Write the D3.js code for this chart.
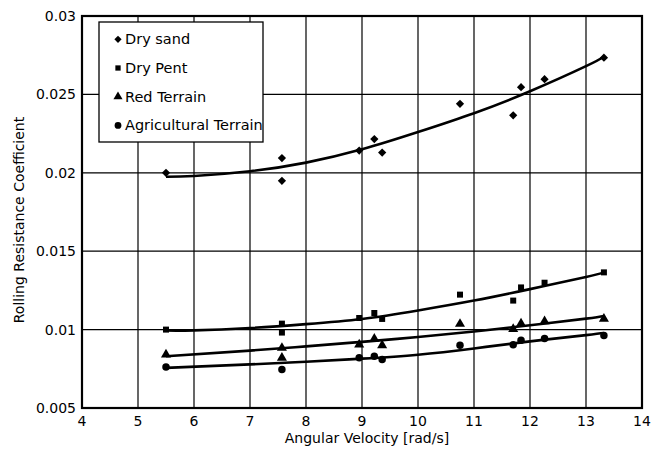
<!DOCTYPE html>
<html>
<head>
<meta charset="utf-8">
<script src="https://cdn.jsdelivr.net/npm/d3@7"></script>
<style>
  body { margin: 0; background: #fff; }
  svg text { font-family: "DejaVu Sans", sans-serif; fill: #000; }
</style>
</head>
<body>
<div id="chart"></div>
<script>
// measured points
var drySand = [[5.5,0.0200],[7.57,0.02094],[7.57,0.01949],[8.95,0.02142],[9.22,0.02215],[9.36,0.02129],
  [10.75,0.0244],[11.7,0.02367],[11.84,0.02546],[12.26,0.02597],[13.32,0.02734]];
var dryPent = [[5.5,0.0100],[7.57,0.01038],[7.57,0.00981],[8.95,0.01074],[9.22,0.01106],[9.36,0.01068],
  [10.75,0.01223],[11.7,0.01185],[11.84,0.01269],[12.26,0.01299],[13.32,0.01365]];
var redTerrain = [[5.5,0.00841],[7.57,0.00883],[7.57,0.0082],[8.95,0.00904],[9.22,0.00941],[9.36,0.0090],
  [10.75,0.01036],[11.7,0.01004],[11.84,0.01038],[12.26,0.01053],[13.32,0.01068]];
var agriTerrain = [[5.5,0.00762],[7.57,0.00745],[8.95,0.0082],[9.22,0.0083],[9.36,0.00809],
  [10.75,0.0090],[11.7,0.00904],[11.84,0.00932],[12.26,0.00943],[13.32,0.00962]];

// fitted curves
var drySandFit = [[5.5,0.01975],[6,0.0198],[7,0.0201],[8,0.02065],[9,0.0215],[10,0.0226],[11,0.0238],[12,0.0252],[13,0.0268],[13.32,0.0274]];
var dryPentFit = [[5.5,0.00994],[6,0.00995],[7,0.0101],[8,0.01035],[9,0.01068],[10,0.01122],[11,0.01185],[12,0.01258],[13,0.01336],[13.32,0.01365]];
var redFit = [[5.5,0.0083],[7,0.00866],[8,0.00893],[9,0.00922],[10,0.00953],[11,0.00988],[12,0.01028],[13,0.0107],[13.32,0.01087]];
var agriFit = [[5.5,0.00756],[7,0.00778],[8,0.00795],[9,0.00815],[10,0.0084],[11,0.0088],[12,0.00925],[13,0.00965],[13.32,0.00978]];

var seriesNames = ["Dry sand", "Dry Pent", "Red Terrain", "Agricultural Terrain"];
var xTicks = [4,5,6,7,8,9,10,11,12,13,14];
var yTicks = [0.005,0.01,0.015,0.02,0.025,0.03];

var width = 663, height = 449
var margins = {top: 16, right: 21, bottom: 41, left: 82}

var svg = d3.select("#chart").append("svg")
    .attr("width", width).attr("height", height)

var x = d3.scaleLinear().domain([4,14]).range([margins.left, width - margins.right])
var y = d3.scaleLinear().domain([0.005,0.03]).range([height - margins.bottom, margins.top])

// grid
svg.append("g").selectAll("line").data(xTicks).enter().append("line")
    .attr("x1", d => x(d)).attr("x2", d => x(d))
    .attr("y1", y(0.03)).attr("y2", y(0.005))
    .attr("stroke", "#000").attr("stroke-width", 1.2)
svg.append("g").selectAll("line").data(yTicks).enter().append("line")
    .attr("x1", x(4)).attr("x2", x(14))
    .attr("y1", d => y(d)).attr("y2", d => y(d))
    .attr("stroke", "#000").attr("stroke-width", 1.2)

// frame
svg.append("rect")
    .attr("x", x(4)).attr("y", y(0.03))
    .attr("width", x(14) - x(4)).attr("height", y(0.005) - y(0.03))
    .attr("fill", "none").attr("stroke", "#000").attr("stroke-width", 2.2)

// tick labels
svg.append("g").selectAll("text").data(xTicks).enter().append("text")
    .attr("x", d => x(d)).attr("y", y(0.005) + 18)
    .attr("text-anchor", "middle").attr("font-size", "14px")
    .text(d => d)
svg.append("g").selectAll("text").data(yTicks).enter().append("text")
    .attr("x", x(4) - 6).attr("y", d => y(d) + 5)
    .attr("text-anchor", "end").attr("font-size", "14px")
    .text(d => d)

svg.append("text")
    .attr("x", 367).attr("y", 443)
    .attr("text-anchor", "middle").attr("font-size", "14px")
    .text("Angular Velocity [rad/s]")
svg.append("text")
    .attr("transform", "translate(24,220) rotate(-90)")
    .attr("text-anchor", "middle").attr("font-size", "14px")
    .text("Rolling Resistance Coefficient")

// fit lines
var line = d3.line()
    .curve(d3.curveNatural)
    .x(d => x(d[0]))
    .y(d => y(d[1]))

svg.append("g").selectAll("path")
    .data([drySandFit, dryPentFit, redFit, agriFit])
    .enter().append("path")
    .attr("d", line)
    .attr("fill", "none").attr("stroke", "#000").attr("stroke-width", 2.6)

// markers (diamond = square turned 45deg)
var symbols = [d3.symbolSquare, d3.symbolSquare, d3.symbolTriangle, d3.symbolCircle]
var turns = [45, 0, 0, 0]
var sizes = [34, 36, 44, 44]
var allData = [drySand, dryPent, redTerrain, agriTerrain]

allData.forEach(function(pts, i) {
    svg.append("g").selectAll("path")
        .data(pts).enter().append("path")
        .attr("transform", d => "translate(" + x(d[0]) + "," + y(d[1]) + ") rotate(" + turns[i] + ")")
        .attr("d", d3.symbol().type(symbols[i]).size(sizes[i]))
        .attr("fill", "#000")
})

// legend
var legend = svg.append("g").attr("transform", "translate(99,22)")
legend.append("rect")
    .attr("width", 164).attr("height", 120)
    .attr("fill", "#fff").attr("stroke", "#000").attr("stroke-width", 1.3)

var item = legend.selectAll(".legend").data(seriesNames).enter().append("g")
    .attr("class", "legend")
    .attr("transform", (d, i) => "translate(0," + (22.3 + i * 28.7) + ")")
item.append("path")
    .attr("transform", (d, i) => "translate(19,-5) rotate(" + turns[i] + ")")
    .attr("d", (d, i) => d3.symbol().type(symbols[i]).size(sizes[i] - 8)())
    .attr("fill", "#000")
item.append("text")
    .attr("x", 26).attr("y", 0)
    .attr("font-size", "14.5px")
    .text(d => d)
</script>
</body>
</html>
